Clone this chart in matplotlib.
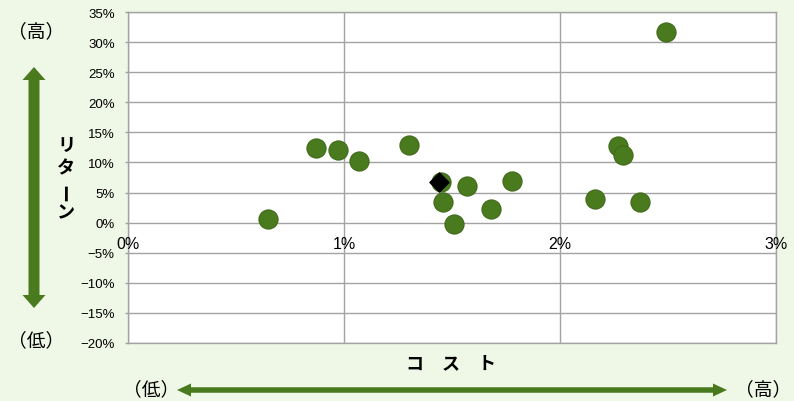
import matplotlib
matplotlib.use("Agg")
import matplotlib.pyplot as plt
from matplotlib.patches import Polygon

# cost (%) vs return (%) per fund
cost = [0.65, 0.87, 0.97, 1.07, 1.30, 1.45, 1.46, 1.57, 1.51, 1.68, 1.78,
        2.16, 2.37, 2.27, 2.29, 2.49]
ret = [0.6, 12.4, 12.1, 10.3, 12.9, 6.7, 3.4, 6.1, -0.2, 2.3, 7.0,
       3.9, 3.5, 12.8, 11.2, 31.6]

# highlighted fund (diamond)
sel_cost = [1.44]
sel_ret = [6.8]

x_ticks = [0, 1, 2, 3]
y_ticks = list(range(-20, 40, 5))

BG = "#eff7e6"
GREEN = "#4a7a1e"
GRID = "#a3a3a3"
JP = ["Noto Sans CJK JP", "DejaVu Sans"]
NUM = ["Liberation Sans Narrow", "Liberation Sans", "DejaVu Sans"]

fig = plt.figure(figsize=(7.94, 4.02), dpi=100, facecolor=BG)
ax = fig.add_axes([128 / 794, 1 - 344 / 402, 648 / 794, 331 / 402])
ax.set_facecolor("white")

ax.scatter(cost, ret, s=190, color=GREEN, edgecolor="#40691a",
           linewidth=0.8, zorder=3)
ax.scatter(sel_cost, sel_ret, s=95, marker="D", color="black", zorder=4)

ax.set_xlim(x_ticks[0], x_ticks[-1])
ax.set_ylim(y_ticks[0], y_ticks[-1])
ax.set_yticks(y_ticks)
ax.set_yticklabels([f"{v}%".replace("-", "\u2212") for v in y_ticks],
                   family=NUM, fontsize=9.5)
ax.set_xticks(x_ticks)
ax.set_xticklabels([])
ax.tick_params(axis="y", length=2.5, width=1.0, color=GRID, pad=7)
ax.tick_params(axis="x", length=0)
ax.grid(True, color=GRID, linewidth=1.0, zorder=0)
ax.set_axisbelow(True)
for sp in ax.spines.values():
    sp.set_color(GRID)
    sp.set_linewidth(1.0)

# x tick labels sit just under the zero line
for v in x_ticks:
    ax.annotate(f"{v}%", (v, 0), xytext=(0, -15), textcoords="offset points",
                ha="center", va="center", family=NUM, fontsize=11.5,
                annotation_clip=False, zorder=5)

# overlay in pixel coordinates for the axis captions and arrows
ov = fig.add_axes([0, 0, 1, 1])
ov.set_xlim(0, 794)
ov.set_ylim(402, 0)
ov.axis("off")
ov.patch.set_alpha(0)


def double_arrow(a, b, center, width, head_w, head_l, vertical=False):
    """Two-headed block arrow drawn as a single polygon."""
    w, h = width / 2, head_w / 2
    pts = [(a, 0), (a + head_l, h), (a + head_l, w), (b - head_l, w),
           (b - head_l, h), (b, 0), (b - head_l, -h), (b - head_l, -w),
           (a + head_l, -w), (a + head_l, -h)]
    if vertical:
        xy = [(center + off, along) for along, off in pts]
    else:
        xy = [(along, center + off) for along, off in pts]
    ov.add_patch(Polygon(xy, closed=True, color=GREEN, linewidth=0))


double_arrow(68, 309, 34, 11, 23, 13, vertical=True)
double_arrow(177, 727, 391, 5.5, 13, 14)

ov.text(36, 32, "（高）", ha="center", va="center", family=JP, fontsize=13.5)
ov.text(36, 341, "（低）", ha="center", va="center", family=JP, fontsize=13.5)
ov.text(151, 390, "（低）", ha="center", va="center", family=JP, fontsize=13.5)
ov.text(763, 390, "（高）", ha="center", va="center", family=JP, fontsize=13.5)

# vertical caption, long vowel mark turned upright
for ch, y, rot in (("リ", 145, 0), ("タ", 168, 0), ("ー", 192, 90), ("ン", 213, 0)):
    ov.text(66, y, ch, ha="center", va="center", family=JP, fontsize=13,
            fontweight="bold", rotation=rot)

ov.text(451, 364, "コ　ス　ト", ha="center", va="center", family=JP,
        fontsize=13, fontweight="bold")

fig.savefig("out.png", dpi=100, facecolor=BG)
